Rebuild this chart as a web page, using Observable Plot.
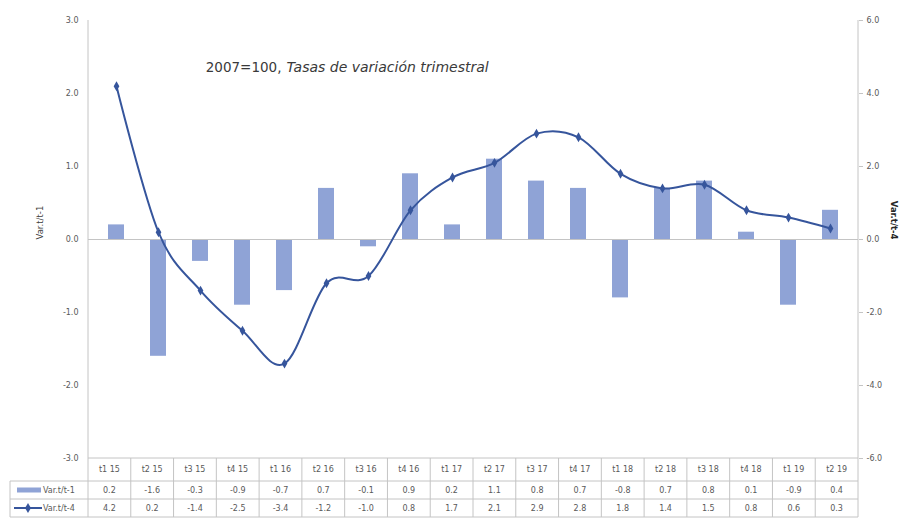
<!DOCTYPE html>
<html>
<head>
<meta charset="utf-8">
<script src="https://cdn.jsdelivr.net/npm/d3@7"></script>
<script src="https://cdn.jsdelivr.net/npm/@observablehq/plot@0.6"></script>
<style>
  body { margin: 0; background: #fff; }
  #chart svg { display: block; }
</style>
</head>
<body>
<div id="chart"></div>
<script>
// Quarters and the two series (quarter-on-quarter and year-on-year change)
const quarters = ["t1 15","t2 15","t3 15","t4 15","t1 16","t2 16","t3 16","t4 16","t1 17",
                  "t2 17","t3 17","t4 17","t1 18","t2 18","t3 18","t4 18","t1 19","t2 19"];
const varT1 = [0.2,-1.6,-0.3,-0.9,-0.7,0.7,-0.1,0.9,0.2,1.1,0.8,0.7,-0.8,0.7,0.8,0.1,-0.9,0.4];
const varT4 = [4.2,0.2,-1.4,-2.5,-3.4,-1.2,-1.0,0.8,1.7,2.1,2.9,2.8,1.8,1.4,1.5,0.8,0.6,0.3];
const leftTicks = [-3,-2,-1,0,1,2,3];
const seriesNames = ["Var.t/t-1", "Var.t/t-4"];
const titleA = "2007=100,";
const titleB = "Tasas de variación trimestral";

const barColor = "#8fa3d6";
const lineColor = "#36559c";
const gridColor = "#c4c4c4";
const textColor = "#595959";

// right axis shares the left scale: year-on-year values are halved
const ratio = 2;
const rows = quarters.map((q, i) => ({q, v1: varT1[i], v4: varT4[i], v4s: varT4[i] / ratio}));

const chart = Plot.plot({
  width: 901,
  height: 519,
  marginLeft: 88,
  marginRight: 43,
  marginTop: 20,
  marginBottom: 61,
  style: {fontFamily: "'DejaVu Sans', sans-serif", fontSize: "8px", color: textColor, background: "#fff"},
  x: {type: "band", domain: quarters, padding: 0, axis: null},
  y: {domain: [-3, 3], axis: null},
  marks: [
    Plot.barY(rows, {x: "q", y: "v1", fill: barColor, insetLeft: 13, insetRight: 13}),
    Plot.ruleY([0], {stroke: gridColor}),
    Plot.axisY(leftTicks, {anchor: "left", tickSize: 0, tickPadding: 10, tickFormat: d => d.toFixed(1), label: null, fill: textColor}),
    Plot.axisY(leftTicks, {anchor: "right", tickSize: 4, tickPadding: 4, stroke: gridColor,
      tickFormat: d => (d * ratio).toFixed(1), label: null, fill: textColor}),
    Plot.text([seriesNames[0]], {frameAnchor: "left", dx: -48, rotate: -90, fill: "#404040", fontSize: 8.5}),
    Plot.text([seriesNames[1]], {frameAnchor: "right", dx: 35, rotate: 90, fill: "#262626", fontSize: 8.5, fontWeight: "bold"}),
    Plot.line(rows, {x: "q", y: "v4s", stroke: lineColor, strokeWidth: 2, curve: "cardinal"}),
    Plot.dot(rows, {x: "q", y: "v4s", symbol: "diamond", r: 3, fill: lineColor, stroke: null}),
    Plot.text([titleA], {frameAnchor: "top-left", dx: 193, dy: 47, lineAnchor: "middle", textAnchor: "end", fill: "#3a3a3a", fontSize: 13.5}),
    Plot.text([titleB], {frameAnchor: "top-left", dx: 198, dy: 47, lineAnchor: "middle", textAnchor: "start", fontStyle: "italic", fill: "#3a3a3a", fontSize: 14})
  ]
});

document.getElementById("chart").append(chart);

// Data table under the plot, aligned with the band scale
const sx = chart.scale("x");
const sy = chart.scale("y");
const xBand = d3.scaleBand(sx.domain, sx.range);
const yLin = d3.scaleLinear(sy.domain, sy.range);
const svg = d3.select(chart);
const g = svg.append("g").attr("font-family", "'DejaVu Sans', sans-serif").attr("font-size", 8);

const xLeft = sx.range[0], xRight = sx.range[1];
const tableTop = yLin(-3);
const rowEdges = [tableTop, tableTop + 23, tableTop + 41, tableTop + 59];
const legendLeft = 10;

// axis lines
g.append("line").attr("x1", xLeft).attr("x2", xLeft).attr("y1", yLin(3)).attr("y2", rowEdges[3]).attr("stroke", gridColor);
g.append("line").attr("x1", xRight).attr("x2", xRight).attr("y1", yLin(3)).attr("y2", rowEdges[3]).attr("stroke", gridColor);
g.append("line").attr("x1", xLeft).attr("x2", xRight).attr("y1", tableTop).attr("y2", tableTop).attr("stroke", gridColor);

// horizontal row borders
rowEdges.slice(1).forEach(yy => {
  g.append("line").attr("x1", legendLeft).attr("x2", xRight).attr("y1", yy).attr("y2", yy).attr("stroke", gridColor);
});
g.append("line").attr("x1", legendLeft).attr("x2", legendLeft).attr("y1", rowEdges[1]).attr("y2", rowEdges[3]).attr("stroke", gridColor);

// vertical cell borders
quarters.slice(1).forEach(q => {
  const xx = xBand(q);
  g.append("line").attr("x1", xx).attr("x2", xx).attr("y1", tableTop).attr("y2", rowEdges[3]).attr("stroke", gridColor);
});

const mid = i => (rowEdges[i] + rowEdges[i + 1]) / 2;
const cellText = (txt, cx, cy) => g.append("text").attr("x", cx).attr("y", cy).attr("dy", "0.35em")
  .attr("text-anchor", "middle").attr("fill", textColor).text(txt);

rows.forEach(d => {
  const cx = xBand(d.q) + xBand.bandwidth() / 2;
  cellText(d.q, cx, mid(0));
  cellText(d.v1.toFixed(1), cx, mid(1));
  cellText(d.v4.toFixed(1), cx, mid(2));
});

// legend keys
g.append("rect").attr("x", 17).attr("y", mid(1) - 2.5).attr("width", 24).attr("height", 5).attr("fill", barColor);
g.append("line").attr("x1", 14).attr("x2", 42).attr("y1", mid(2)).attr("y2", mid(2)).attr("stroke", lineColor).attr("stroke-width", 2);
g.append("path").attr("d", d3.symbol(d3.symbolDiamond, 30)()).attr("transform", `translate(28,${mid(2)})`).attr("fill", lineColor);
seriesNames.forEach((name, i) => {
  g.append("text").attr("x", 43).attr("y", mid(i + 1)).attr("dy", "0.35em")
    .attr("text-anchor", "start").attr("fill", textColor).text(name);
});
</script>
</body>
</html>
